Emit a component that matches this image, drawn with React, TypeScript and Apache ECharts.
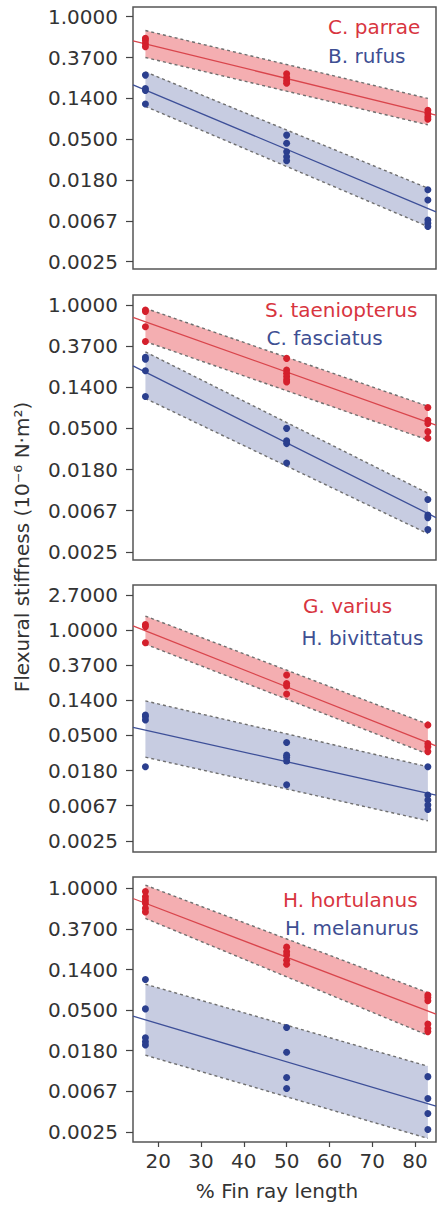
import React, { useEffect, useRef } from "react";
import * as echarts from "echarts";

// ---------- data (flexural stiffness, 10^-6 N·m²) ----------
const X_TICKS = [20, 30, 40, 50, 60, 70, 80];
const Y_TICK_EXPONENTS = [1, 0, -1, -2, -3, -4, -5, -6];
const Y_TICK_LABELS = ["2.7000", "1.0000", "0.3700", "0.1400", "0.0500", "0.0180", "0.0067", "0.0025"];
const FIT_X = [14.1, 84.9];
const BAND_X = [17, 83];

// Panel 1
const C_PARRAE_POINTS = [[17, 0.59], [17, 0.56], [17, 0.52], [17, 0.48], [50, 0.247], [50, 0.225], [50, 0.208], [50, 0.196], [83, 0.101], [83, 0.0935], [83, 0.0863], [83, 0.0813]];
const C_PARRAE_FIT = [0.554, 0.0898];
const C_PARRAE_UPPER = [0.712, 0.135];
const C_PARRAE_LOWER = [0.368, 0.0707];
const B_RUFUS_POINTS = [[17, 0.239], [17, 0.172], [17, 0.164], [17, 0.118], [50, 0.055], [50, 0.045], [50, 0.0365], [50, 0.0324], [50, 0.0293], [83, 0.0144], [83, 0.0112], [83, 0.00687], [83, 0.00635], [83, 0.00586]];
const B_RUFUS_FIT = [0.188, 0.0084];
const B_RUFUS_UPPER = [0.259, 0.015];
const B_RUFUS_LOWER = [0.111, 0.00586];

// Panel 2
const S_TAENIOPTERUS_POINTS = [[17, 0.887], [17, 0.852], [17, 0.589], [17, 0.411], [50, 0.273], [50, 0.206], [50, 0.19], [50, 0.176], [50, 0.162], [50, 0.154], [83, 0.0829], [83, 0.0608], [83, 0.0561], [83, 0.046], [83, 0.0392]];
const S_TAENIOPTERUS_FIT = [0.741, 0.0539];
const S_TAENIOPTERUS_UPPER = [0.923, 0.0854];
const S_TAENIOPTERUS_LOWER = [0.411, 0.0376];
const C_FASCIATUS_POINTS = [[17, 0.281], [17, 0.267], [17, 0.202], [17, 0.108], [50, 0.0498], [50, 0.0369], [50, 0.0344], [50, 0.0215], [83, 0.00883], [83, 0.00604], [83, 0.00569], [83, 0.00425]];
const C_FASCIATUS_FIT = [0.228, 0.00569];
const C_FASCIATUS_UPPER = [0.32, 0.0103];
const C_FASCIATUS_LOWER = [0.103, 0.00385];

// Panel 3
const G_VARIUS_POINTS = [[17, 1.17], [17, 1.105], [17, 0.698], [50, 0.278], [50, 0.219], [50, 0.204], [50, 0.162], [83, 0.0672], [83, 0.0396], [83, 0.0362], [83, 0.0314]];
const G_VARIUS_FIT = [1.127, 0.0369];
const G_VARIUS_UPPER = [1.492, 0.0686];
const G_VARIUS_LOWER = [0.67, 0.0293];
const H_BIVITTATUS_POINTS = [[17, 0.0889], [17, 0.0846], [17, 0.0773], [17, 0.0204], [50, 0.0408], [50, 0.0284], [50, 0.0265], [50, 0.024], [50, 0.0122], [83, 0.0204], [83, 0.0091], [83, 0.00791], [83, 0.00687], [83, 0.00604]];
const H_BIVITTATUS_FIT = [0.0627, 0.0091];
const H_BIVITTATUS_UPPER = [0.133, 0.0204];
const H_BIVITTATUS_LOWER = [0.0268, 0.00438];

// Panel 4
const H_HORTULANUS_POINTS = [[17, 0.923], [17, 0.811], [17, 0.748], [17, 0.691], [17, 0.613], [17, 0.56], [50, 0.235], [50, 0.21], [50, 0.194], [50, 0.17], [50, 0.154], [83, 0.0721], [83, 0.0679], [83, 0.0627], [83, 0.0354], [83, 0.0317], [83, 0.0293]];
const H_HORTULANUS_FIT = [0.779, 0.045];
const H_HORTULANUS_UPPER = [1.083, 0.0765];
const H_HORTULANUS_LOWER = [0.477, 0.0268];
const H_MELANURUS_POINTS = [[17, 0.106], [17, 0.0513], [17, 0.0252], [17, 0.0228], [17, 0.0211], [50, 0.0324], [50, 0.0176], [50, 0.00947], [50, 0.00723], [83, 0.00966], [83, 0.00563], [83, 0.00389], [83, 0.00263]];
const H_MELANURUS_FIT = [0.0429, 0.00466];
const H_MELANURUS_UPPER = [0.0944, 0.0125];
const H_MELANURUS_LOWER = [0.0164, 0.00211];

const SPECIES_NAMES = [
  ["C. parrae", "B. rufus"],
  ["S. taeniopterus", "C. fasciatus"],
  ["G. varius", "H. bivittatus"],
  ["H. hortulanus", "H. melanurus"],
];

// ---------- layout / style ----------
const FONT = "DejaVu Sans";
const RED = { dot: "#d4202c", line: "#d9454c", band: "#f4aeb1", text: "#d8353f" };
const BLUE = { dot: "#2b3f8e", line: "#3d4f98", band: "#c7cce1", text: "#3e4f93" };
const GRIDS = [
  { top: 7, height: 262, yMin: -6.18, yMax: 0.237, exps: [0, -1, -2, -3, -4, -5, -6] },
  { top: 295, height: 265, yMin: -6.2, yMax: 0.243, exps: [0, -1, -2, -3, -4, -5, -6] },
  { top: 585, height: 267, yMin: -6.32, yMax: 1.285, exps: [1, 0, -1, -2, -3, -4, -5, -6] },
  { top: 877, height: 265, yMin: -6.25, yMax: 0.28, exps: [0, -1, -2, -3, -4, -5, -6] },
];
const LEGEND_POS = [
  [[328, 27.3], [328, 56.3]],
  [[265, 309.7], [266.5, 338]],
  [[303, 606.3], [301.5, 638]],
  [[283, 899.7], [285, 928]],
];

export default function App() {
  const ref = useRef<HTMLDivElement>(null);

  useEffect(() => {
    if (!ref.current) return;
    const chart = echarts.init(ref.current, null, { renderer: "svg" });
    const ln = Math.log;

    const panels = [
      [
        { pts: C_PARRAE_POINTS, fit: C_PARRAE_FIT, up: C_PARRAE_UPPER, lo: C_PARRAE_LOWER, c: RED },
        { pts: B_RUFUS_POINTS, fit: B_RUFUS_FIT, up: B_RUFUS_UPPER, lo: B_RUFUS_LOWER, c: BLUE },
      ],
      [
        { pts: S_TAENIOPTERUS_POINTS, fit: S_TAENIOPTERUS_FIT, up: S_TAENIOPTERUS_UPPER, lo: S_TAENIOPTERUS_LOWER, c: RED },
        { pts: C_FASCIATUS_POINTS, fit: C_FASCIATUS_FIT, up: C_FASCIATUS_UPPER, lo: C_FASCIATUS_LOWER, c: BLUE },
      ],
      [
        { pts: G_VARIUS_POINTS, fit: G_VARIUS_FIT, up: G_VARIUS_UPPER, lo: G_VARIUS_LOWER, c: RED },
        { pts: H_BIVITTATUS_POINTS, fit: H_BIVITTATUS_FIT, up: H_BIVITTATUS_UPPER, lo: H_BIVITTATUS_LOWER, c: BLUE },
      ],
      [
        { pts: H_HORTULANUS_POINTS, fit: H_HORTULANUS_FIT, up: H_HORTULANUS_UPPER, lo: H_HORTULANUS_LOWER, c: RED },
        { pts: H_MELANURUS_POINTS, fit: H_MELANURUS_FIT, up: H_MELANURUS_UPPER, lo: H_MELANURUS_LOWER, c: BLUE },
      ],
    ];

    const grid = GRIDS.map((g) => ({
      left: 133,
      width: 303,
      top: g.top,
      height: g.height,
      show: true,
      borderColor: "#555",
      borderWidth: 1.5,
      backgroundColor: "#fff",
    }));

    const xAxis = GRIDS.map((_, i) => {
      const last = i === GRIDS.length - 1;
      if (!last) {
        return {
          type: "value",
          gridIndex: i,
          min: FIT_X[0],
          max: FIT_X[1],
          show: false,
          axisLine: { show: false, onZero: false },
        };
      }
      return {
        type: "value",
        gridIndex: i,
        position: "bottom",
        min: FIT_X[0],
        max: FIT_X[1],
        axisLine: { show: false, onZero: false },
        splitLine: { show: false },
        axisTick: {
          show: true,
          customValues: X_TICKS,
          length: 5,
          lineStyle: { color: "#444", width: 1.2 },
        },
        axisLabel: {
          show: true,
          customValues: X_TICKS,
          fontFamily: FONT,
          fontSize: 20,
          color: "#333",
          margin: 9,
        },
      };
    });

    const yAxis = GRIDS.map((g, i) => ({
      type: "value",
      gridIndex: i,
      position: "left",
      min: g.yMin,
      max: g.yMax,
      axisLine: { show: false, onZero: false },
      splitLine: { show: false },
      axisTick: {
        show: true,
        customValues: g.exps,
        length: 7,
        lineStyle: { color: "#444", width: 1.2 },
      },
      axisLabel: {
        customValues: g.exps,
        fontFamily: FONT,
        fontSize: 20,
        color: "#333",
        margin: 15,
        formatter: (v: number) => Y_TICK_LABELS[Y_TICK_EXPONENTS.indexOf(Math.round(v))] ?? "",
      },
    }));

    const series: any[] = [];
    panels.forEach((sp, i) => {
      sp.forEach((s) => {
        series.push({
          type: "custom",
          xAxisIndex: i,
          yAxisIndex: i,
          z: 1,
          silent: true,
          dimensions: ["x0", "lo0", "hi0", "x1", "lo1", "hi1"],
          encode: { x: [0, 3], y: [1, 2, 4, 5] },
          data: [[BAND_X[0], ln(s.lo[0]), ln(s.up[0]), BAND_X[1], ln(s.lo[1]), ln(s.up[1])]],
          renderItem: (params: any, api: any) => {
            const a = api.coord([api.value(0), api.value(2)]);
            const b = api.coord([api.value(3), api.value(5)]);
            const c = api.coord([api.value(3), api.value(4)]);
            const d = api.coord([api.value(0), api.value(1)]);
            const dash = { stroke: "#6f6f6f", lineWidth: 1.4, lineDash: [3, 3], fill: null };
            return {
              type: "group",
              children: [
                { type: "polygon", shape: { points: [a, b, c, d] }, style: { fill: s.c.band } },
                { type: "line", shape: { x1: a[0], y1: a[1], x2: b[0], y2: b[1] }, style: dash },
                { type: "line", shape: { x1: d[0], y1: d[1], x2: c[0], y2: c[1] }, style: dash },
              ],
            };
          },
        });
        series.push({
          type: "line",
          xAxisIndex: i,
          yAxisIndex: i,
          z: 2,
          silent: true,
          symbol: "none",
          lineStyle: { color: s.c.line, width: 1.3 },
          data: FIT_X.map((x, k) => [x, ln(s.fit[k])]),
        });
        series.push({
          type: "scatter",
          xAxisIndex: i,
          yAxisIndex: i,
          z: 3,
          silent: true,
          symbolSize: 7,
          itemStyle: { color: s.c.dot, opacity: 1 },
          data: s.pts.map((p) => [p[0], ln(p[1])]),
        });
      });
    });

    const graphic: any[] = [];
    SPECIES_NAMES.forEach((names, i) => {
      names.forEach((name, k) => {
        const [x, y] = LEGEND_POS[i][k];
        graphic.push({
          type: "text",
          x,
          y,
          z: 10,
          style: {
            text: name,
            fontFamily: FONT,
            fontSize: 20,
            fill: k === 0 ? RED.text : BLUE.text,
            align: "left",
            verticalAlign: "middle",
          },
        });
      });
    });
    graphic.push({
      type: "text",
      x: 277,
      y: 1191,
      style: {
        text: "% Fin ray length",
        fontFamily: FONT,
        fontSize: 20,
        fill: "#333",
        align: "center",
        verticalAlign: "middle",
      },
    });
    graphic.push({
      type: "text",
      x: 22,
      y: 547,
      rotation: Math.PI / 2,
      style: {
        text: "Flexural stiffness (10⁻⁶ N·m²)",
        fontFamily: FONT,
        fontSize: 20,
        fill: "#333",
        align: "center",
        verticalAlign: "middle",
      },
    });

    chart.setOption({
      animation: false,
      backgroundColor: "#fff",
      grid,
      xAxis,
      yAxis,
      series,
      graphic,
    });

    return () => chart.dispose();
  }, []);

  return (
    <div
      ref={ref}
      style={{ position: "absolute", left: 0, top: 0, width: 437, height: 1209 }}
    />
  );
}
